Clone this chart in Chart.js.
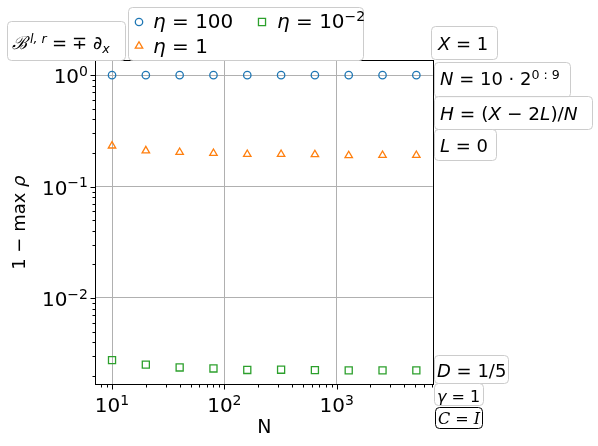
<!DOCTYPE html>
<html>
<head>
<meta charset="utf-8">
<script src="https://cdn.jsdelivr.net/npm/chart.js@4.4.1/dist/chart.umd.min.js"></script>
<style>
  body { margin: 0; background: #fff; }
  canvas { display: block; }
</style>
</head>
<body>
<canvas id="chart" width="598" height="446"></canvas>
<script>
// data
const nValues = [10, 20, 40, 80, 160, 320, 640, 1280, 2560, 5120];
const seriesEta100 = [1.0, 1.0, 1.0, 1.0, 1.0, 1.0, 1.0, 1.0, 1.0, 1.0];
const seriesEta1 = [0.232, 0.210, 0.203, 0.199, 0.195, 0.195, 0.194, 0.190, 0.191, 0.191];
const seriesEta001 = [0.00277, 0.00252, 0.00238, 0.00233, 0.00226, 0.00227, 0.00225, 0.00224, 0.00224, 0.00224];
const xTickValues = [10, 100, 1000];
const yTickValues = [1, 0.1, 0.01];
const xRange = [7.2, 7160];
const yRange = [0.00168, 1.34];

const FONT = '"DejaVu Sans", "Liberation Sans", sans-serif';
const SERIF = '"DejaVu Serif", "Liberation Serif", serif';

function isDecade(v) {
  if (!v || v <= 0) return false;
  const l = Math.log10(v);
  return Math.abs(l - Math.round(l)) < 1e-6;
}

function toPoints(values) {
  return nValues.map((n, i) => ({ x: n, y: values[i] }));
}

// small rich text helper: runs of [text, {it, sup, sub, fam, at}]
function richWidth(ctx, runs, size) {
  let w = 0;
  runs.forEach(r => {
    const o = r[1] || {};
    const s = (o.sup || o.sub) ? size * 0.7 : size;
    ctx.font = (o.it ? 'italic ' : '') + s + 'px ' + (o.fam || FONT);
    w += ctx.measureText(r[0]).width;
  });
  return w;
}
function drawRich(ctx, x, y, runs, size) {
  let cx = x;
  ctx.textAlign = 'left';
  ctx.textBaseline = 'alphabetic';
  runs.forEach(r => {
    const o = r[1] || {};
    const s = (o.sup || o.sub) ? size * 0.7 : size;
    ctx.font = (o.it ? 'italic ' : '') + s + 'px ' + (o.fam || FONT);
    const dy = o.sup ? -size * 0.36 : (o.sub ? size * 0.22 : 0);
    if (o.at !== undefined) cx = o.at;
    ctx.fillText(r[0], cx, y + dy);
    cx += ctx.measureText(r[0]).width;
  });
  return cx - x;
}
function powLabel(v) {
  const e = Math.round(Math.log10(v));
  return [['10'], [String(e).replace('-', '\u2212'), { sup: true }]];
}

function roundBox(ctx, x, y, w, h, stroke) {
  const r = 4;
  ctx.beginPath();
  ctx.moveTo(x + r, y);
  ctx.arcTo(x + w, y, x + w, y + h, r);
  ctx.arcTo(x + w, y + h, x, y + h, r);
  ctx.arcTo(x, y + h, x, y, r);
  ctx.arcTo(x, y, x + w, y, r);
  ctx.closePath();
  ctx.fillStyle = 'rgba(255,255,255,0.85)';
  ctx.fill();
  ctx.strokeStyle = stroke || '#cccccc';
  ctx.lineWidth = 1;
  ctx.stroke();
}

const datasets = [
  { label: 'eta100', data: toPoints(seriesEta100), pointStyle: 'circle', pointRadius: 3.7, borderColor: '#1f77b4' },
  { label: 'eta1', data: toPoints(seriesEta1), pointStyle: 'triangle', pointRadius: 4.3, borderColor: '#ff7f0e' },
  { label: 'eta001', data: toPoints(seriesEta001), pointStyle: 'rect', pointRadius: 5, borderColor: '#2ca02c' }
].map(d => Object.assign(d, {
  showLine: false,
  backgroundColor: 'rgba(0,0,0,0)',
  pointBackgroundColor: 'rgba(0,0,0,0)',
  pointBorderColor: d.borderColor,
  pointBorderWidth: 1.3
}));

function drawMarker(ctx, ds, x, y) {
  ctx.save();
  ctx.fillStyle = 'rgba(0,0,0,0)';
  ctx.strokeStyle = ds.borderColor;
  ctx.lineWidth = ds.pointBorderWidth;
  Chart.helpers.drawPoint(ctx, {
    pointStyle: ds.pointStyle, rotation: 0, radius: ds.pointRadius, borderWidth: ds.pointBorderWidth
  }, x, y);
  ctx.restore();
}

const decorPlugin = {
  id: 'decor',
  afterDraw(chart) {
    const ctx = chart.ctx;
    const a = chart.chartArea;
    const xs = chart.scales.x, ys = chart.scales.y;
    ctx.save();
    ctx.fillStyle = '#000';
    ctx.strokeStyle = '#000';
    ctx.lineWidth = 1;

    // frame
    const L = Math.round(a.left) - 0.5, R = Math.round(a.right) + 0.5;
    const T = Math.round(a.top) - 0.5, B = Math.round(a.bottom) + 0.5;
    ctx.strokeRect(L, T, R - L, B - T);

    // tick marks
    ctx.beginPath();
    for (let e = Math.floor(Math.log10(xRange[0])); e <= Math.ceil(Math.log10(xRange[1])); e++) {
      for (let m = 1; m < 10; m++) {
        const v = m * Math.pow(10, e);
        if (v < xRange[0] || v > xRange[1]) continue;
        const px = Math.round(xs.getPixelForValue(v)) + 0.5;
        ctx.moveTo(px, B);
        ctx.lineTo(px, B + (m === 1 ? 5 : 3));
      }
    }
    for (let e = Math.floor(Math.log10(yRange[0])); e <= Math.ceil(Math.log10(yRange[1])); e++) {
      for (let m = 1; m < 10; m++) {
        const v = m * Math.pow(10, e);
        if (v < yRange[0] || v > yRange[1]) continue;
        const py = Math.round(ys.getPixelForValue(v)) + 0.5;
        ctx.moveTo(L, py);
        ctx.lineTo(L - (m === 1 ? 5 : 3), py);
      }
    }
    ctx.stroke();

    // tick labels
    ctx.fillStyle = '#000';
    xTickValues.forEach(v => {
      const runs = powLabel(v);
      const w = richWidth(ctx, runs, 20);
      drawRich(ctx, xs.getPixelForValue(v) - w / 2, 412, runs, 20);
    });
    yTickValues.forEach(v => {
      const runs = powLabel(v);
      const w = richWidth(ctx, runs, 20);
      drawRich(ctx, 88 - w, ys.getPixelForValue(v) + 8, runs, 20);
    });

    // axis titles
    const xl = [['N']];
    drawRich(ctx, (a.left + a.right) / 2 - richWidth(ctx, xl, 19) / 2, 433, xl, 19);
    const yl = [['1 \u2212 max '], ['\u03c1', { it: true }]];
    ctx.save();
    ctx.translate(25, (a.top + a.bottom) / 2);
    ctx.rotate(-Math.PI / 2);
    drawRich(ctx, -richWidth(ctx, yl, 18) / 2, 0, yl, 18);
    ctx.restore();

    // boundary condition box
    roundBox(ctx, 7.5, 21.5, 118, 39);
    ctx.fillStyle = '#000';
    drawRich(ctx, 12, 49, [
      ['\u212c', { it: true, fam: SERIF }],
      ['l, r', { it: true, sup: true, at: 30 }],
      ['=', { at: 52 }],
      ['\u2213', { at: 72 }],
      ['\u2202', { at: 93 }],
      ['x', { it: true, sub: true }]
    ], 18);

    // legend
    roundBox(ctx, 128.5, 7.5, 235, 53);
    drawMarker(ctx, datasets[0], 139, 22);
    drawMarker(ctx, datasets[1], 139, 46);
    drawMarker(ctx, datasets[2], 262, 22);
    ctx.fillStyle = '#000';
    drawRich(ctx, 153, 28, [['\u03b7', { it: true }], [' = 100']], 20);
    drawRich(ctx, 153, 53, [['\u03b7', { it: true }], [' = 1']], 20);
    drawRich(ctx, 277, 28, [['\u03b7', { it: true }], [' = 10'], ['\u22122', { sup: true }]], 20);

    // parameter boxes on the right
    const boxes = [
      { x: 431.5, y: 26.5, w: 66, h: 33, tx: 438, ty: 50, size: 18, runs: [['X', { it: true }], [' = 1']] },
      { x: 434.5, y: 62.5, w: 136, h: 35, tx: 440, ty: 85, size: 18, runs: [['N', { it: true }], [' = 10 \u00b7 2'], ['0 : 9', { sup: true }]] },
      { x: 434.5, y: 96.5, w: 158, h: 33, tx: 440, ty: 120, size: 18.5, runs: [['H', { it: true }], [' = ('], ['X', { it: true }], [' \u2212 2'], ['L', { it: true }], [')/'], ['N', { it: true }]] },
      { x: 434.5, y: 129.5, w: 62, h: 31, tx: 440, ty: 151.5, size: 18, runs: [['L', { it: true }], [' = 0']] },
      { x: 434.5, y: 355.5, w: 74, h: 28, tx: 437, ty: 377, size: 18, runs: [['D', { it: true }], [' = 1/5']] },
      { x: 434.5, y: 383.5, w: 49, h: 22, tx: 437, ty: 402, size: 16, runs: [['\u03b3', { it: true }], [' = 1']] },
      { x: 435.5, y: 407.5, w: 47, h: 21, tx: 438, ty: 424, size: 16, stroke: '#000', runs: [['C', { it: true, fam: SERIF }], [' = '], ['I', { it: true, fam: SERIF }]] }
    ];
    boxes.forEach(b => {
      roundBox(ctx, b.x, b.y, b.w, b.h, b.stroke);
      ctx.fillStyle = '#000';
      drawRich(ctx, b.tx, b.ty, b.runs, b.size);
    });
    ctx.restore();
  }
};

const gridColor = c => (c.tick && isDecade(c.tick.value)) ? '#b0b0b0' : 'rgba(0,0,0,0)';

new Chart(document.getElementById('chart'), {
  type: 'scatter',
  data: { datasets: datasets },
  options: {
    responsive: false,
    animation: false,
    events: [],
    layout: { padding: { left: 0, right: 165.3, top: 61, bottom: 61.7 } },
    plugins: { legend: { display: false }, tooltip: { enabled: false } },
    scales: {
      x: {
        type: 'logarithmic', min: xRange[0], max: xRange[1],
        border: { display: false },
        grid: { color: gridColor, lineWidth: 1, drawTicks: false },
        ticks: { display: false, autoSkip: false },
        afterFit: s => { s.height = 0; }
      },
      y: {
        type: 'logarithmic', min: yRange[0], max: yRange[1],
        border: { display: false },
        grid: { color: gridColor, lineWidth: 1, drawTicks: false },
        ticks: { display: false, autoSkip: false },
        afterFit: s => { s.width = 96; }
      }
    }
  },
  plugins: [decorPlugin]
});
</script>
</body>
</html>
